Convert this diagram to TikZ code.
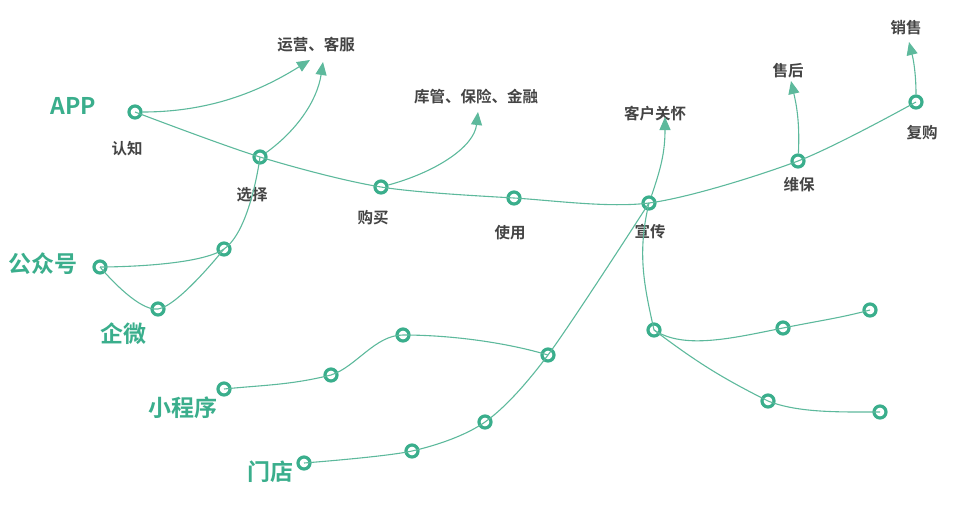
\documentclass[tikz,border=0pt]{standalone}
\usepackage{fontspec}
\setmainfont{Noto Sans CJK SC}[BoldFont={Noto Sans CJK SC Bold}]
\usetikzlibrary{arrows.meta}
\definecolor{ring}{HTML}{3AAE8C}
\definecolor{wire}{HTML}{5DB99C}
\definecolor{txt}{HTML}{444444}
\begin{document}
\begin{tikzpicture}[x=1pt,y=-1pt,
 dot/.style={circle,draw=ring,line width=3.2pt,minimum size=12pt,inner sep=0pt},
 wirel/.style={draw=wire,line width=1.1pt},
 arr/.style={wirel,-{Triangle[length=13pt,width=11pt]}},
 lab/.style={text=txt,font=\bfseries\fontsize{15.5}{15.5}\selectfont},
 glab/.style={text=ring,font=\bfseries\fontsize{23}{23}\selectfont}]
\useasboundingbox (0,0) rectangle (964,517);
% main stages
\node[dot] (rz) at (135,112) {};
\node[dot] (xz) at (260,157) {};
\node[dot] (gm) at (381,187) {};
\node[dot] (sy) at (514,198) {};
\node[dot] (xc) at (649,203) {};
\node[dot] (wb) at (798,161) {};
\node[dot] (fg) at (916,102) {};
% left
\node[dot] (gzh) at (100,267) {};
\node[dot] (p1) at (224,249) {};
\node[dot] (qw) at (158,309) {};
% lower chains
\node[dot] (xcx) at (224,389) {};
\node[dot] (m1) at (331,375) {};
\node[dot] (m2) at (403,335) {};
\node[dot] (m3) at (548,355) {};
\node[dot] (md) at (304,463) {};
\node[dot] (d1) at (412,451) {};
\node[dot] (d2) at (485,422) {};
% right lower
\node[dot] (r0) at (654,330) {};
\node[dot] (r1) at (783,328) {};
\node[dot] (r2) at (870,310) {};
\node[dot] (r3) at (768,401) {};
\node[dot] (r4) at (880,412) {};
% arrow ends
\coordinate (t1) at (310,60);
\coordinate (t2) at (323,62);
\coordinate (t3) at (478,112);
\coordinate (t4) at (665,117);
\coordinate (t5) at (791,81);
\coordinate (t6) at (909,42);
% labels
\node[glab] at (73,106) {APP};
\node[glab] at (43,264) {公众号};
\node[glab] at (123,334) {企微};
\node[glab] at (183,408) {小程序};
\node[glab] at (270,472) {门店};
\node[lab] at (127,149) {认知};
\node[lab] at (252,195) {选择};
\node[lab] at (373,218) {购买};
\node[lab] at (510,233) {使用};
\node[lab] at (650,232) {宣传};
\node[lab] at (799,185) {维保};
\node[lab] at (922,133) {复购};
\node[lab] at (316,45) {运营、客服};
\node[lab] at (476,97) {库管、保险、金融};
\node[lab] at (655,114) {客户关怀};
\node[lab] at (788,71) {售后};
\node[lab] at (906,28) {销售};
% main line
\draw[wirel] plot[smooth,tension=0.5] coordinates {(rz.center) (xz.center) (gm.center) (sy.center) (xc.center) (wb.center) (fg.center)};
% left
\draw[wirel] plot[smooth,tension=0.6] coordinates {(gzh.center) (p1.center) (xz.center)};
\draw[wirel] plot[smooth,tension=0.6] coordinates {(gzh.center) (qw.center) (p1.center)};
% lower
\draw[wirel] (xcx.center) .. controls +(40,-4) and +(-40,10) .. (m1.center)
  .. controls +(25,-8) and +(-28,0) .. (m2.center)
  .. controls +(50,0) and +(-40,-12) .. (m3.center);
\draw[wirel] plot[smooth,tension=0.5] coordinates {(md.center) (d1.center) (d2.center) (m3.center) (xc.center)};
% right lower
\draw[wirel] (xc.center) .. controls +(-12,50) and +(-10,-45) .. (r0.center);
\draw[wirel] (r0.center) .. controls +(30,20) and +(-50,10) .. (r1.center) .. controls +(40,-8) and +(-30,8) .. (r2.center);
\draw[wirel] (r0.center) .. controls +(40,30) and +(-50,-25) .. (r3.center) .. controls +(30,12) and +(-40,0) .. (r4.center);
% arrows
\draw[arr] (rz) .. controls +(80,0) and +(-45,28) .. (t1);
\draw[arr] (xz) .. controls +(35,-25) and +(-6,40) .. (t2);
\draw[arr] (gm) .. controls +(55,-15) and +(-4,35) .. (t3);
\draw[arr] (xc) .. controls +(12,-35) and +(0,35) .. (t4);
\draw[arr] (wb) .. controls +(2,-40) and +(5,22) .. (t5);
\draw[arr] (fg) .. controls +(0,-30) and +(4,16) .. (t6);
\end{tikzpicture}
\end{document}
